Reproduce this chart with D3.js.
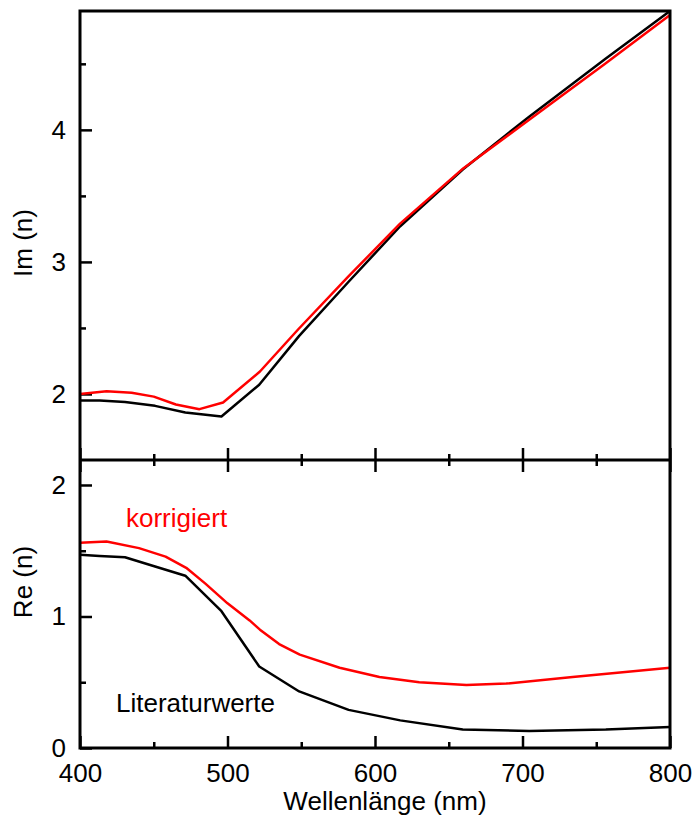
<!DOCTYPE html>
<html lang="en">
<head>
<meta charset="utf-8">
<title>Im (n) / Re (n) gegen Wellenlänge</title>
<script src="https://d3js.org/d3.v7.min.js"></script>
<style>
  body { margin: 0; background: #fff; }
  text { font-family: "Liberation Sans", Arial, sans-serif; }
</style>
</head>
<body>
<script>
// Wellenlängen und Werte
var litWl   = [400, 413.3, 430.5, 450.9, 471.4, 495.9, 521.5, 548.6, 582.1, 617.1, 659.5, 704.5, 756.5, 800];
var litIm   = [1.95, 1.95, 1.94, 1.91, 1.86, 1.83, 2.07, 2.44, 2.85, 3.27, 3.70, 4.10, 4.54, 4.90];
var litRe   = [1.47, 1.46, 1.45, 1.38, 1.31, 1.04, 0.62, 0.43, 0.29, 0.21, 0.14, 0.13, 0.14, 0.16];

var korImWl = [400, 418, 435, 450, 465, 481, 497, 522, 548, 582, 617, 660, 705, 756, 800];
var korIm   = [2.00, 2.02, 2.01, 1.98, 1.92, 1.885, 1.935, 2.17, 2.49, 2.89, 3.29, 3.71, 4.08, 4.50, 4.87];

var korReWl = [400, 418, 440, 458, 472, 485, 500, 515, 522, 535, 549, 576, 603, 630, 662, 689, 734, 800];
var korRe   = [1.56, 1.57, 1.52, 1.455, 1.37, 1.25, 1.10, 0.97, 0.90, 0.79, 0.71, 0.61, 0.54, 0.50, 0.48, 0.49, 0.54, 0.61];

var xMajor = [400, 500, 600, 700, 800];
var xMinor = [450, 550, 650, 750];
var imMajor = [2, 3, 4];
var imMinor = [2.5, 3.5, 4.5];
var reMajor = [0, 1, 2];
var reMinor = [0.5, 1.5];

var w = 695, h = 819;
var left = 80, right = 670;
var topY = 11, midY = 460, botY = 748;

var svg = d3.select("body").append("svg")
    .attr("width", w)
    .attr("height", h);

var x = d3.scaleLinear().domain([400, 800]).range([left, right]);
var yIm = d3.scaleLinear().domain([1.5, 4.9]).range([midY, topY]);
var yRe = d3.scaleLinear().domain([0, 2.19]).range([botY, midY]);

var fs = 26;

function yAxes(scale, major, minor) {
  var gMaj = svg.append("g").attr("transform", "translate(" + left + ",0)")
      .call(d3.axisLeft(scale).tickValues(major).tickSize(-12).tickSizeOuter(0)
        .tickPadding(14).tickFormat(d3.format("d")));
  var gMin = svg.append("g").attr("transform", "translate(" + left + ",0)")
      .call(d3.axisLeft(scale).tickValues(minor).tickSize(-6).tickSizeOuter(0).tickFormat(""));
  [gMaj, gMin].forEach(function(g) {
    g.select(".domain").remove();
    g.selectAll("line").attr("stroke", "#000").attr("stroke-width", 2.5);
    g.selectAll("text").attr("font-size", fs).attr("fill", "#000")
      .attr("font-family", "Liberation Sans, Arial, sans-serif");
  });
}

function xTicks(yPos, dir, labels) {
  // dir: -1 Striche nach oben, +1 nach unten
  var axisFn = dir < 0 ? d3.axisBottom : d3.axisTop;
  var gMaj = svg.append("g").attr("transform", "translate(0," + yPos + ")")
      .call(axisFn(x).tickValues(xMajor).tickSize(-12).tickSizeOuter(0)
        .tickFormat(labels ? d3.format("d") : ""));
  var gMin = svg.append("g").attr("transform", "translate(0," + yPos + ")")
      .call(axisFn(x).tickValues(xMinor).tickSize(-6).tickSizeOuter(0).tickFormat(""));
  [gMaj, gMin].forEach(function(g) {
    g.select(".domain").remove();
    g.selectAll("line").attr("stroke", "#000").attr("stroke-width", 2.5);
  });
  if (labels) {
    gMaj.selectAll("text").attr("font-size", fs).attr("fill", "#000")
      .attr("font-family", "Liberation Sans, Arial, sans-serif")
      .attr("y", 16).attr("dy", "0.71em");
  }
}

yAxes(yIm, imMajor, imMinor);
yAxes(yRe, reMajor, reMinor);
xTicks(midY, -1, false);   // Striche ins obere Feld
xTicks(midY, 1, false);    // Striche ins untere Feld
xTicks(botY, -1, true);

var lineIm = function(wl, vals) {
  return d3.line().x(function(d, i) { return x(wl[i]); })
    .y(function(d) { return yIm(d); })(vals);
};
var lineRe = function(wl, vals) {
  return d3.line().x(function(d, i) { return x(wl[i]); })
    .y(function(d) { return yRe(d); })(vals);
};

svg.append("path").attr("d", lineIm(litWl, litIm))
   .attr("fill", "none").attr("stroke", "#000").attr("stroke-width", 2.5).attr("stroke-linejoin", "round");
svg.append("path").attr("d", lineIm(korImWl, korIm))
   .attr("fill", "none").attr("stroke", "#ff0000").attr("stroke-width", 2.5).attr("stroke-linejoin", "round");
svg.append("path").attr("d", lineRe(litWl, litRe))
   .attr("fill", "none").attr("stroke", "#000").attr("stroke-width", 2.5).attr("stroke-linejoin", "round");
svg.append("path").attr("d", lineRe(korReWl, korRe))
   .attr("fill", "none").attr("stroke", "#ff0000").attr("stroke-width", 2.5).attr("stroke-linejoin", "round");

// Rahmen
svg.append("rect").attr("x", left).attr("y", topY)
   .attr("width", right - left).attr("height", botY - topY)
   .attr("fill", "none").attr("stroke", "#000").attr("stroke-width", 3);
svg.append("line").attr("x1", left).attr("x2", right).attr("y1", midY).attr("y2", midY)
   .attr("stroke", "#000").attr("stroke-width", 3);

// Beschriftungen
svg.append("text").attr("transform", "translate(32,243) rotate(-90)")
   .attr("text-anchor", "middle").attr("font-size", fs).text("Im (n)");
svg.append("text").attr("transform", "translate(32,582) rotate(-90)")
   .attr("text-anchor", "middle").attr("font-size", fs).text("Re (n)");
svg.append("text").attr("x", 385).attr("y", 810)
   .attr("text-anchor", "middle").attr("font-size", fs).text("Wellenlänge (nm)");

svg.append("text").attr("x", 126).attr("y", 527)
   .attr("font-size", fs).attr("fill", "#ff0000").text("korrigiert");
svg.append("text").attr("x", 116).attr("y", 712)
   .attr("font-size", fs).attr("fill", "#000").text("Literaturwerte");
</script>
</body>
</html>
